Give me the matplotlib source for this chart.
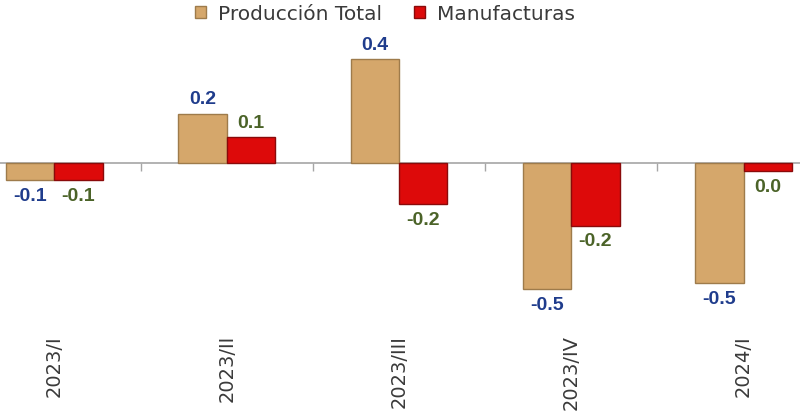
import matplotlib
matplotlib.use("Agg")
import matplotlib.pyplot as plt
import numpy as np

# Quarterly variation (%)
periods = ["2023/I", "2023/II", "2023/III", "2023/IV", "2024/I"]
produccion_total = [-0.065, 0.19, 0.40, -0.485, -0.46]
manufacturas = [-0.065, 0.10, -0.157, -0.24, -0.03]

tan = "#D5A76B"
tan_edge = "#9E7B4B"
red = "#DD0A0A"
red_edge = "#8A0A0A"
blue_lbl = "#1F3C8C"
green_lbl = "#4B6328"
text_gray = "#3A3A3A"

plt.rcParams["font.family"] = ["DejaVu Sans"]

fig = plt.figure(figsize=(8, 4.13), dpi=100)
# axes: top at 30 px, bottom at 335 px (from the top of the figure)
ax = fig.add_axes([0, 78 / 413, 1, 305 / 413])

x = np.arange(len(periods))
w = 0.28
b1 = ax.bar(x - w / 2, produccion_total, w, color=tan, edgecolor=tan_edge,
            linewidth=1.0, label="Producción Total", zorder=3)
b2 = ax.bar(x + w / 2, manufacturas, w, color=red, edgecolor=red_edge,
            linewidth=1.0, label="Manufacturas", zorder=3)


def fmt(v):
    s = f"{v:.1f}"
    return "0.0" if s == "-0.0" else s


for bars, vals, col in [(b1, produccion_total, blue_lbl), (b2, manufacturas, green_lbl)]:
    for rect, v in zip(bars, vals):
        cx = rect.get_x() + rect.get_width() / 2
        if v >= 0:
            off, va = 4, "bottom"
        else:
            off, va = -5.5, "top"
        ax.annotate(fmt(v), (cx, v), xytext=(0, off), textcoords="offset points",
                    ha="center", va=va, fontsize=14, fontweight="bold",
                    color=col, family=["Liberation Sans", "DejaVu Sans"])

ax.set_xlim(-54.4 / 172.3, (800 - 54.4) / 172.3)
ax.set_ylim(-(335 - 163.3) / 260, (163.3 - 30) / 260)

# zero line with category separators
for s in ["top", "right", "left"]:
    ax.spines[s].set_visible(False)
ax.spines["bottom"].set_position(("data", 0))
ax.spines["bottom"].set_color("#A6A6A6")
ax.spines["bottom"].set_linewidth(1.2)
ax.spines["bottom"].set_zorder(2)
ax.set_xticks(x[:-1] + 0.5)
ax.set_xticklabels([])
ax.tick_params(axis="x", direction="out", length=6, color="#A6A6A6", width=1)
ax.set_yticks([])

# category labels at the bottom
for xi, p in zip(x, periods):
    ax.text(xi, 0, p, transform=ax.get_xaxis_transform(), rotation=90,
            ha="center", va="top", fontsize=14, color=text_gray)

fig.legend(handles=[b1, b2], loc="center", bbox_to_anchor=(385 / 800, 1 - 14 / 413),
           ncol=2, frameon=False, fontsize=14.5, handlelength=0.55, handleheight=0.55,
           handletextpad=0.6, columnspacing=1.6, labelcolor=text_gray)

fig.savefig("out.png", dpi=100)
